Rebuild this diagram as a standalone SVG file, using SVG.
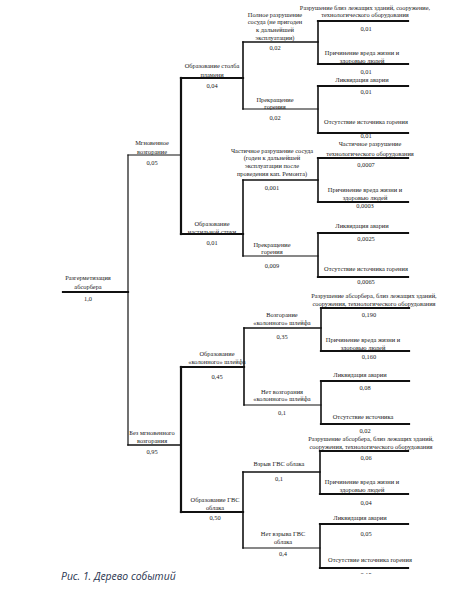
<svg xmlns="http://www.w3.org/2000/svg" width="449" height="605" viewBox="0 0 449 605">
<style>
.t{font-family:"Liberation Serif","Times New Roman",serif;font-size:6.4px;fill:#1a1a1a;text-anchor:middle}
.c{stroke:#111;fill:none;stroke-linecap:square}
.w1{stroke-width:1.2}
.w2{stroke-width:1.6}
.w3{stroke-width:2.2}
.cap{font-family:"Open Sans","Liberation Sans",sans-serif;font-style:italic;font-size:10.4px;fill:#2a3550}
</style>
<defs><clipPath id="clipb"><rect x="300" y="560" width="120" height="14"/></clipPath></defs>
<rect width="449" height="605" fill="#fff"/>
<g id="connectors">
<line class="c w3" x1="63" y1="292" x2="128" y2="292"/>
<line class="c w1" x1="128" y1="155" x2="128" y2="445"/>
<line class="c w1" x1="128" y1="155" x2="180" y2="155"/>
<line class="c w2" x1="128" y1="445" x2="181" y2="445"/>
<line class="c w3" x1="181" y1="78" x2="181" y2="234"/>
<line class="c w3" x1="181" y1="78" x2="243" y2="78"/>
<line class="c w3" x1="181" y1="234" x2="243" y2="234"/>
<line class="c w2" x1="243" y1="42" x2="243" y2="109"/>
<line class="c w2" x1="243" y1="42" x2="318" y2="42"/>
<line class="c w1" x1="243" y1="109" x2="318" y2="109"/>
<line class="c w2" x1="318" y1="21" x2="318" y2="64"/>
<line class="c w3" x1="318" y1="21" x2="408" y2="21"/>
<line class="c w3" x1="318" y1="64" x2="408" y2="64"/>
<line class="c w2" x1="318" y1="86" x2="318" y2="133"/>
<line class="c w3" x1="318" y1="86" x2="408" y2="86"/>
<line class="c w3" x1="318" y1="133" x2="408" y2="133"/>
<line class="c w2" x1="243" y1="180" x2="243" y2="256"/>
<line class="c w2" x1="243" y1="180" x2="318" y2="180"/>
<line class="c w1" x1="243" y1="256" x2="318" y2="256"/>
<line class="c w2" x1="318" y1="158" x2="318" y2="202"/>
<line class="c w3" x1="318" y1="158" x2="408" y2="158"/>
<line class="c w3" x1="318" y1="202" x2="408" y2="202"/>
<line class="c w2" x1="318" y1="233" x2="318" y2="277"/>
<line class="c w3" x1="318" y1="233" x2="408" y2="233"/>
<line class="c w3" x1="318" y1="277" x2="408" y2="277"/>
<line class="c w3" x1="181" y1="367" x2="181" y2="512"/>
<line class="c w3" x1="181" y1="367" x2="244" y2="367"/>
<line class="c w3" x1="181" y1="512" x2="243" y2="512"/>
<line class="c w2" x1="244" y1="328" x2="244" y2="405"/>
<line class="c w2" x1="244" y1="328" x2="321" y2="328"/>
<line class="c w1" x1="244" y1="405" x2="321" y2="405"/>
<line class="c w2" x1="321" y1="308" x2="321" y2="351"/>
<line class="c w3" x1="321" y1="308" x2="409" y2="308"/>
<line class="c w3" x1="321" y1="351" x2="409" y2="351"/>
<line class="c w2" x1="321" y1="381" x2="321" y2="424"/>
<line class="c w3" x1="321" y1="381" x2="409" y2="381"/>
<line class="c w3" x1="321" y1="424" x2="409" y2="424"/>
<line class="c w2" x1="243" y1="472" x2="243" y2="548"/>
<line class="c w2" x1="243" y1="472" x2="320" y2="472"/>
<line class="c w1" x1="243" y1="548" x2="320" y2="548"/>
<line class="c w2" x1="320" y1="451" x2="320" y2="494"/>
<line class="c w3" x1="320" y1="451" x2="408" y2="451"/>
<line class="c w3" x1="320" y1="494" x2="408" y2="494"/>
<line class="c w2" x1="320" y1="524" x2="320" y2="568"/>
<line class="c w3" x1="320" y1="524" x2="408" y2="524"/>
<line class="c w3" x1="320" y1="568" x2="408" y2="568"/>
</g>
<g id="root"><text class="t" x="88" y="280">Разгерметизация</text><text class="t" x="88" y="289">абсорбера</text><text class="t" x="88" y="301">1,0</text></g>
<g id="n-mgn"><text class="t" x="152" y="145">Мгновенное</text><text class="t" x="152" y="154">возгорание</text><text class="t" x="152" y="165">0,05</text></g>
<g id="n-bez"><text class="t" x="152" y="435">Без мгновенного</text><text class="t" x="152" y="443">возгорания</text><text class="t" x="152" y="454">0,95</text></g>
<g id="n-stolb"><text class="t" x="212" y="68">Образование столба</text><text class="t" x="212" y="77">пламени</text><text class="t" x="212" y="88">0,04</text></g>
<g id="n-nast"><text class="t" x="212" y="226">Образование</text><text class="t" x="212" y="234">настильной струи</text><text class="t" x="212" y="245">0,01</text></g>
<g id="n-poln"><text class="t" x="275" y="17">Полное разрушение</text><text class="t" x="275" y="24">сосуда (не пригоден</text><text class="t" x="275" y="32">к дальнейшей</text><text class="t" x="275" y="40">эксплуатации)</text><text class="t" x="275" y="50">0,02</text></g>
<g id="n-prek1"><text class="t" x="275" y="102">Прекращение</text><text class="t" x="275" y="109">горения</text><text class="t" x="275" y="120">0,02</text></g>
<g id="l1"><text class="t" x="365" y="10">Разрушение близ  лежащих зданий, сооружение,</text><text class="t" x="365" y="17">технологического оборудования</text><text class="t" x="366" y="31">0,01</text></g>
<g id="l2"><text class="t" x="362" y="55">Причинение вреда жизни и</text><text class="t" x="362" y="63">здоровью людей</text><text class="t" x="366" y="74">0,01</text></g>
<g id="l3"><text class="t" x="362" y="82">Ликвидация аварии</text><text class="t" x="366" y="94">0,01</text></g>
<g id="l4"><text class="t" x="366" y="124">Отсутствие источника горения</text><text class="t" x="366" y="138">0,01</text></g>
<g id="n-chast"><text class="t" x="272" y="153">Частичное разрушение сосуда</text><text class="t" x="272" y="160">(годен к дальнейшей</text><text class="t" x="272" y="168">эксплуатации после</text><text class="t" x="272" y="176">проведения кап. Ремонта)</text><text class="t" x="272" y="190">0,001</text></g>
<g id="n-prek2"><text class="t" x="272" y="247">Прекращение</text><text class="t" x="272" y="254">горения</text><text class="t" x="272" y="268">0,009</text></g>
<g id="l5"><text class="t" x="370" y="146">Частичное разрушение</text><text class="t" x="370" y="156">технологического оборудования</text><text class="t" x="366" y="167">0,0007</text></g>
<g id="l6"><text class="t" x="365" y="192">Причинение вреда жизни и</text><text class="t" x="365" y="200">здоровью людей</text><text class="t" x="365" y="208">0,0003</text></g>
<g id="l7"><text class="t" x="362" y="228">Ликвидация аварии</text><text class="t" x="366" y="241">0,0025</text></g>
<g id="l8"><text class="t" x="366" y="271">Отсутствие источника горения</text><text class="t" x="366" y="284">0,0065</text></g>
<g id="n-kol"><text class="t" x="217" y="356">Образование</text><text class="t" x="217" y="364">«колонного» шлейфа</text><text class="t" x="217" y="379">0,45</text></g>
<g id="n-gvs"><text class="t" x="215" y="502">Образование ГВС</text><text class="t" x="215" y="510">облака</text><text class="t" x="215" y="520">0,50</text></g>
<g id="n-vozg"><text class="t" x="282" y="317">Возгорание</text><text class="t" x="282" y="325">«колонного» шлейфа</text><text class="t" x="282" y="339">0,35</text></g>
<g id="n-netvozg"><text class="t" x="282" y="394">Нет возгорания</text><text class="t" x="282" y="401">«колонного» шлейфа</text><text class="t" x="282" y="415">0,1</text></g>
<g id="l9"><text class="t" x="374" y="298">Разрушение абсорбера, близ  лежащих зданий,</text><text class="t" x="374" y="306">сооружения,  технологического оборудования</text><text class="t" x="369" y="317">0,190</text></g>
<g id="l10"><text class="t" x="363" y="342">Причинение вреда жизни и</text><text class="t" x="363" y="350">здоровью людей</text><text class="t" x="369" y="359">0,160</text></g>
<g id="l11"><text class="t" x="360" y="377">Ликвидация аварии</text><text class="t" x="365" y="390">0,08</text></g>
<g id="l12"><text class="t" x="363" y="419">Отсутствие источника</text><text class="t" x="365" y="433">0,02</text></g>
<g id="n-vzryv"><text class="t" x="279" y="466">Взрыв ГВС облака</text><text class="t" x="279" y="481">0,1</text></g>
<g id="n-netvzryv"><text class="t" x="283" y="536">Нет взрыва ГВС</text><text class="t" x="283" y="544">облака</text><text class="t" x="283" y="556">0,4</text></g>
<g id="l13"><text class="t" x="371" y="441">Разрушение абсорбера, близ  лежащих зданий,</text><text class="t" x="371" y="449">сооружения,  технологического оборудования</text><text class="t" x="366" y="460">0,06</text></g>
<g id="l14"><text class="t" x="362" y="484">Причинение вреда жизни и</text><text class="t" x="362" y="492">здоровью людей</text><text class="t" x="366" y="505">0,04</text></g>
<g id="l15"><text class="t" x="360" y="520">Ликвидация аварии</text><text class="t" x="366" y="536">0,05</text></g>
<g id="l16"><text class="t" x="370" y="562">Отсутствие источника горения</text><text class="t" x="366" y="577" clip-path="url(#clipb)">0,15</text></g>
<text class="cap" x="61" y="580">Рис. 1. Дерево событий</text>
</svg>
